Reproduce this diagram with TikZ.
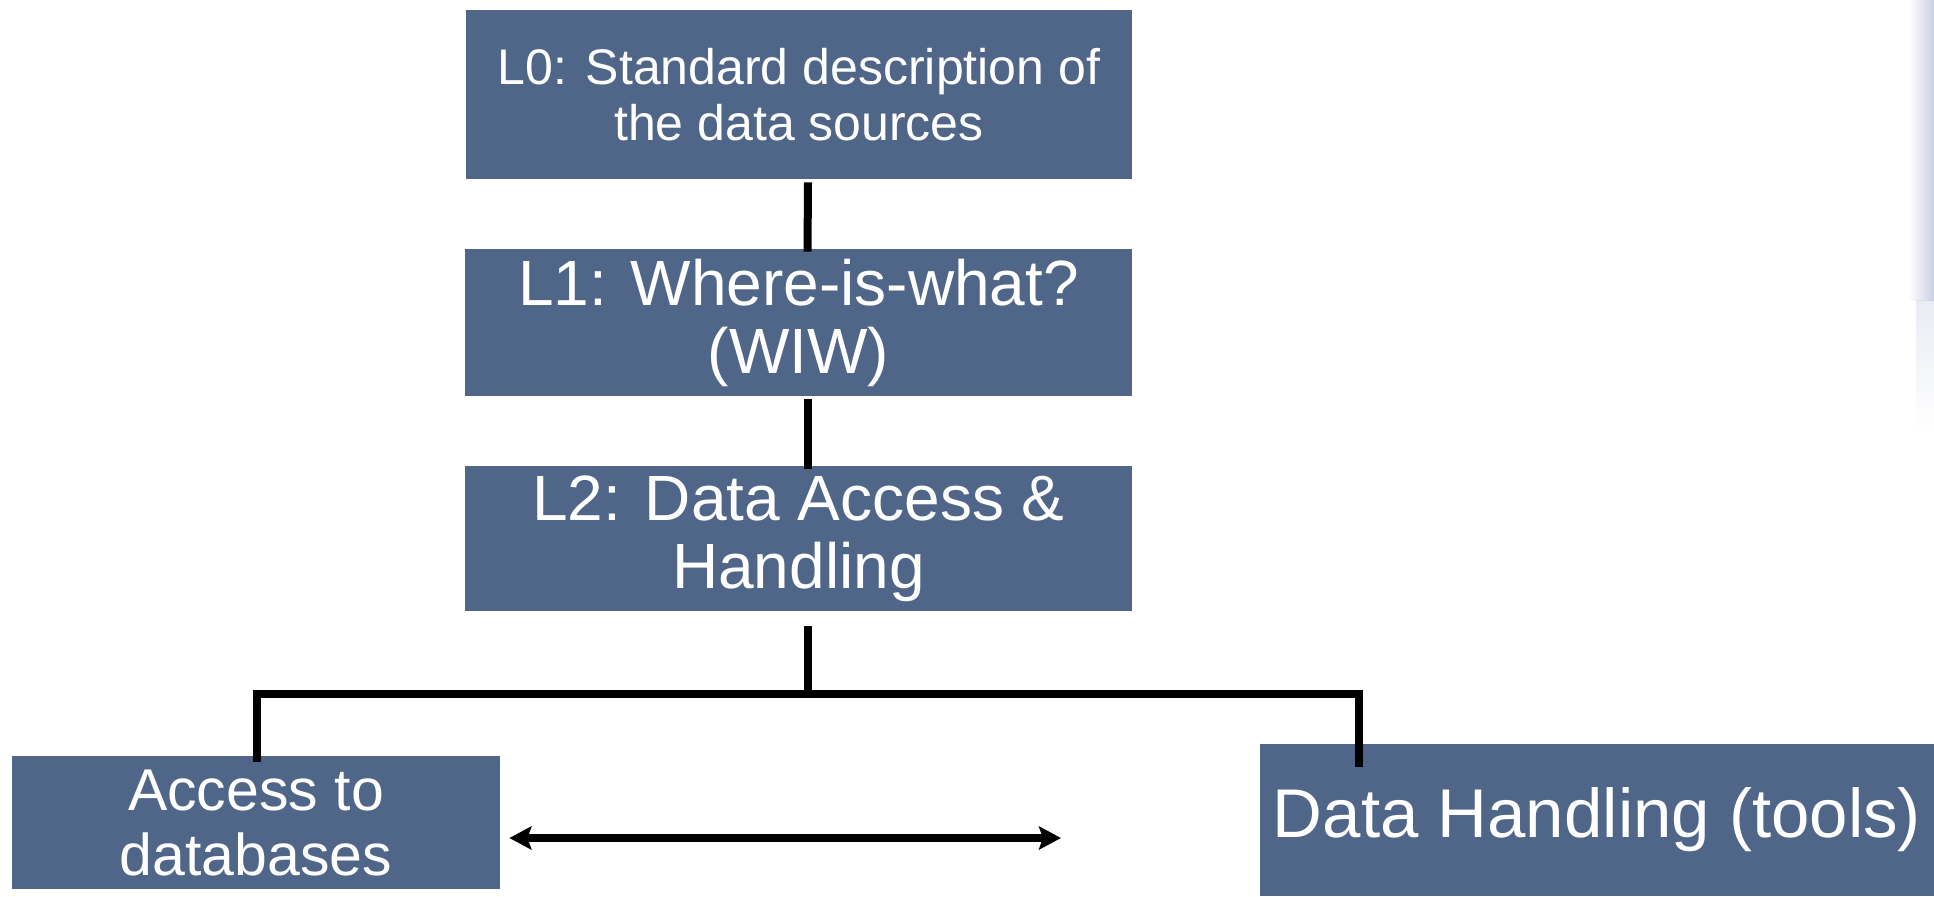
\documentclass[tikz,border=0pt]{standalone}
\usepackage{fontspec}
\setmainfont{Liberation Sans}
\usetikzlibrary{arrows.meta}
\definecolor{slate}{RGB}{80,102,136}
\definecolor{haze}{RGB}{200,208,228}
\tikzset{
  box/.style={rectangle, fill=slate, text=white, align=center, inner sep=0pt},
  conn/.style={draw=black, line width=4pt},
  twoway/.style={draw=black, line width=4.4pt,
    {Stealth[length=11pt,width=11.5pt,inset=2pt]}-{Stealth[length=11pt,width=11.5pt,inset=2pt]}},
}
\begin{document}
\begin{tikzpicture}[x=0.5pt,y=-0.5pt]
\useasboundingbox (0,0) rectangle (1934,896);
\fill[white] (0,0) rectangle (1934,896);

% pale strip at the right margin
\shade[left color=white, right color=haze] (1908,0) rectangle (1934,300);
\shade[top color=haze, bottom color=white, opacity=0.4] (1916,300) rectangle (1934,430);

% layer boxes
\node[box, minimum width=333pt, minimum height=84.5pt,
      font=\fontsize{25}{28}\selectfont] (L0) at (799,94.5)
  {L0: Standard description of\\the data sources};
\node[box, minimum width=333.5pt, minimum height=73.5pt,
      font=\fontsize{32}{34}\selectfont] (L1) at (798.5,322.5)
  {L1: Where-is-what?\\(WIW)};
\node[box, minimum width=333.5pt, minimum height=72.5pt,
      font=\fontsize{32}{34}\selectfont] (L2) at (798.5,538.5)
  {L2: Data Access \&\\Handling};
\node[box, minimum width=244pt, minimum height=66.5pt,
      font=\fontsize{29.5}{32.5}\selectfont] (Acc) at (256,822.5)
  {Access to\\databases};
\node[box, minimum width=337pt, minimum height=76pt,
      font=\fontsize{34.5}{36}\selectfont] (DH) at (1597,820)
  {Data Handling (tools)};

% tree connectors
\coordinate (J) at (807.5,694);
\draw[conn] ([xshift=4.5pt,yshift=-1.5pt]L0.south) -- ([xshift=4.5pt,yshift=-1.5pt]L1.north);
\draw[conn] ([xshift=4.5pt,yshift=-1.5pt]L1.south) -- ([xshift=4.5pt,yshift=-1.5pt]L2.north);
\draw[conn] ([xshift=4.5pt,yshift=-7.5pt]L2.south) -- (J);
\draw[conn] (J) -| ([xshift=0.5pt,yshift=-3pt]Acc.north);
\draw[conn] (J) -| ([xshift=-119.25pt,yshift=-11.5pt]DH.north);

% two-way link between the lower boxes
\coordinate (R) at (1061,838);
\draw[twoway] ([xshift=4.5pt,yshift=-7.75pt]Acc.east) -- (R);
\end{tikzpicture}
\end{document}
